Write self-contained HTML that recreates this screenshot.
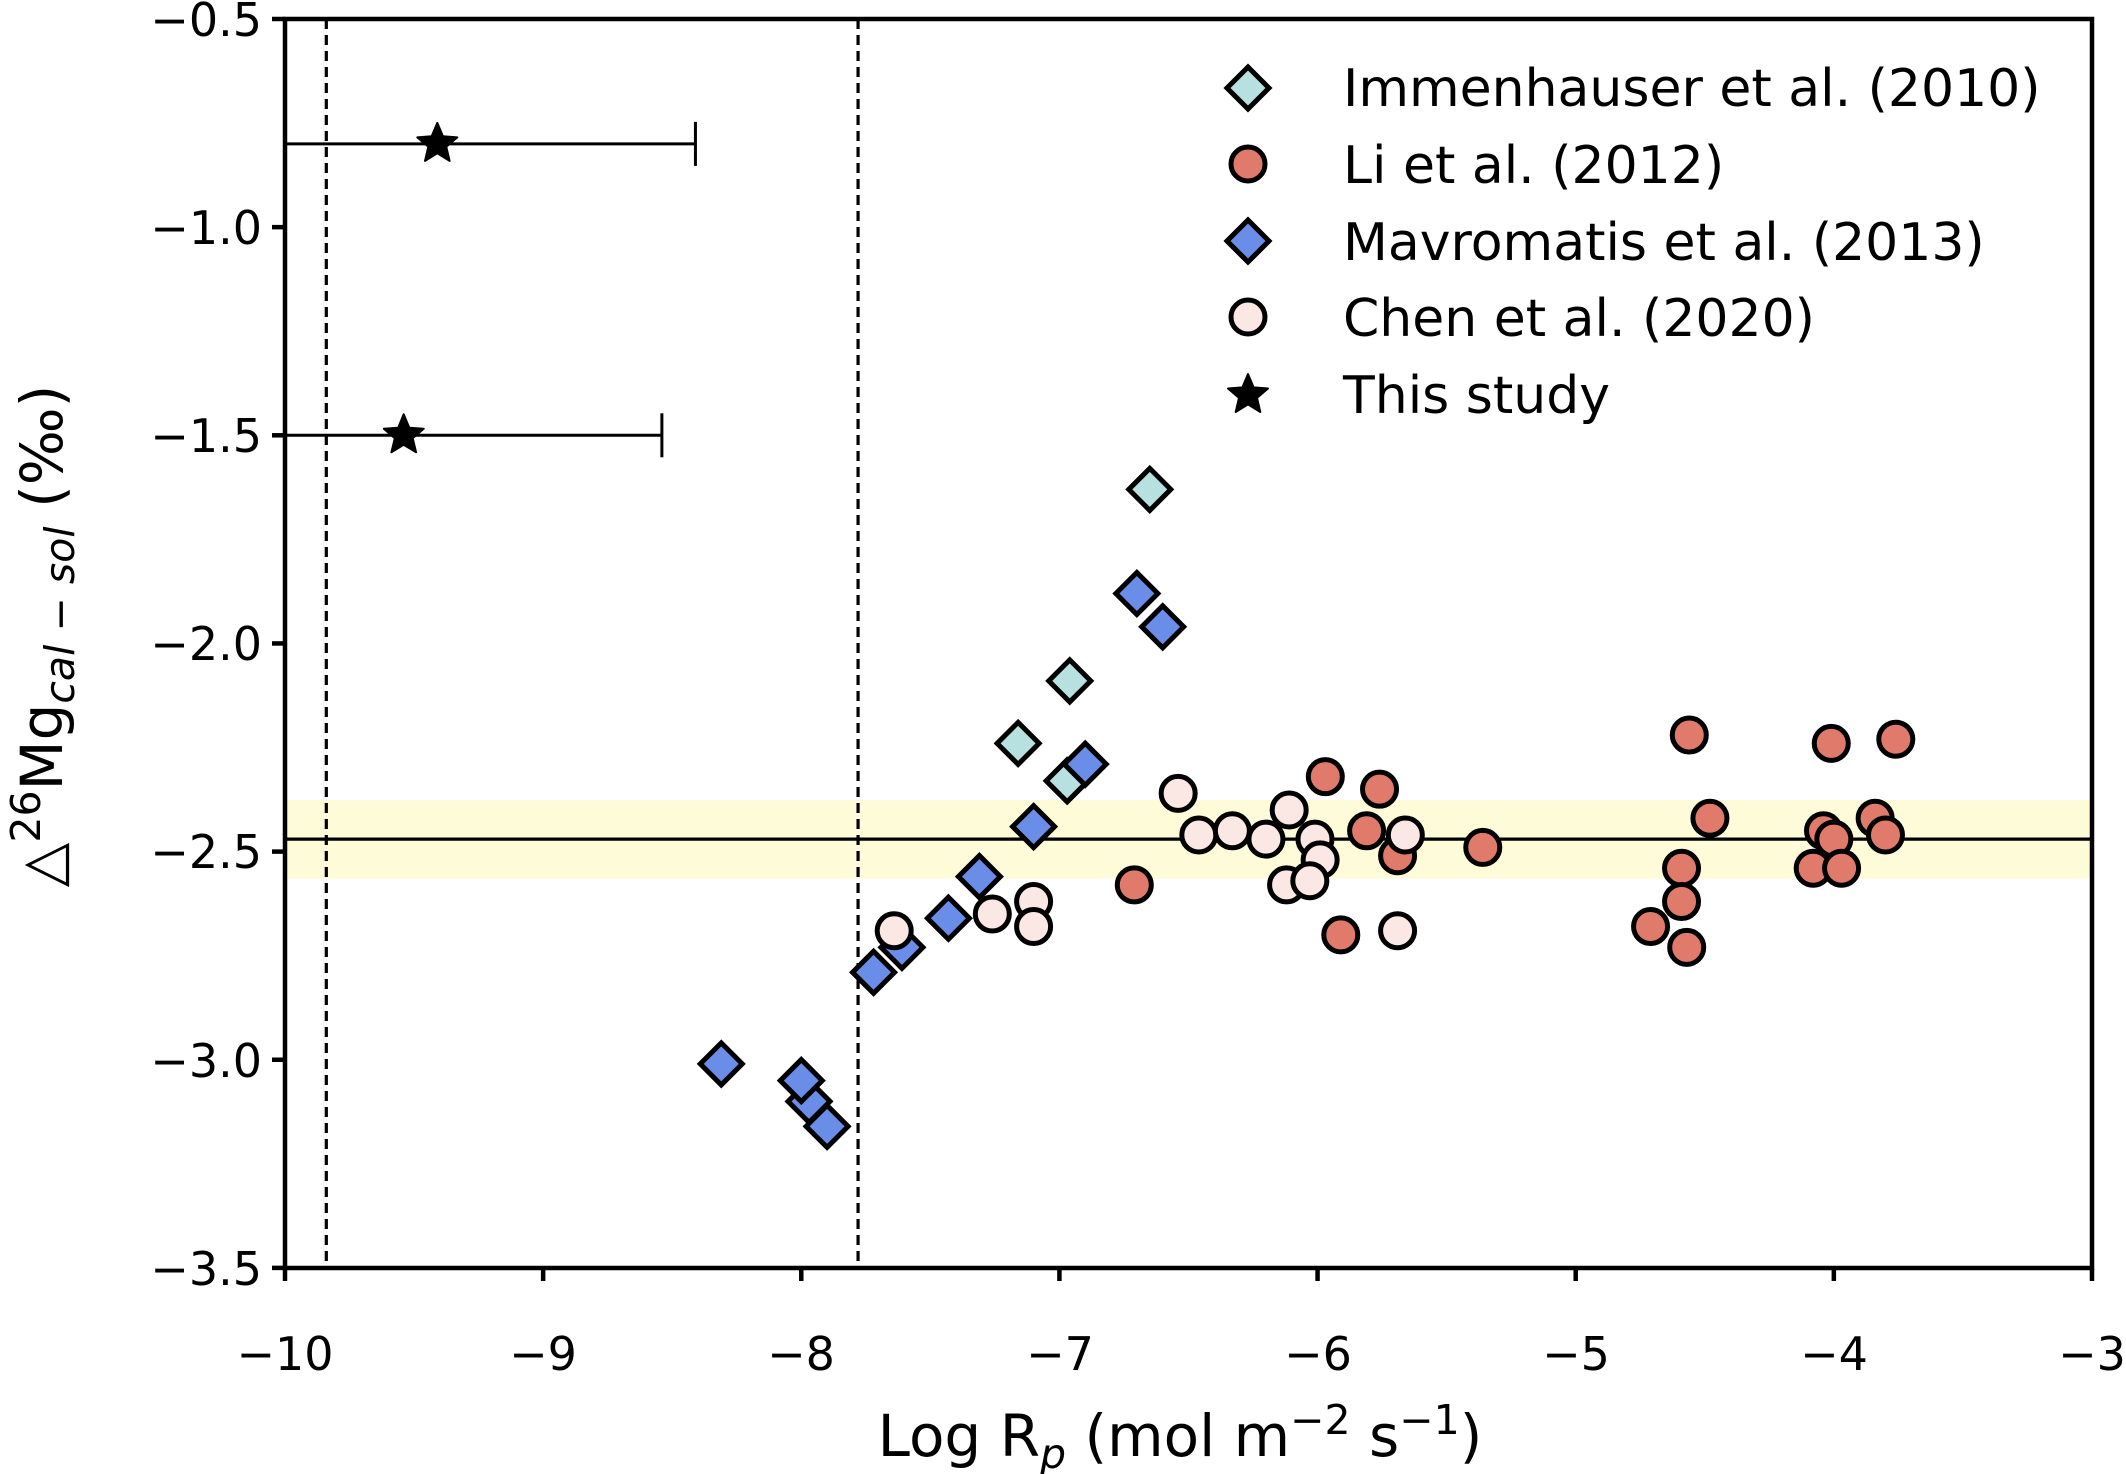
<!DOCTYPE html>
<html><head><meta charset="utf-8"><style>
html,body{margin:0;padding:0;background:#fff;}
svg{display:block;font-family:"DejaVu Sans","Liberation Sans",sans-serif;}
</style></head><body>
<svg id="s" width="2126" height="1474" viewBox="0 0 2126 1474" xmlns="http://www.w3.org/2000/svg">
<rect x="0" y="0" width="2126" height="1474" fill="#fff"/>
<g id="plot"></g>
<g font-size="46" fill="#000" text-anchor="end">
<text x="262" y="36">−0.5</text>
<text x="262" y="244">−1.0</text>
<text x="262" y="452">−1.5</text>
<text x="262" y="660">−2.0</text>
<text x="262" y="868">−2.5</text>
<text x="262" y="1077">−3.0</text>
<text x="262" y="1285">−3.5</text>
</g>
<g font-size="46" fill="#000" text-anchor="middle">
<text x="285" y="1370">−10</text>
<text x="543" y="1370">−9</text>
<text x="801" y="1370">−8</text>
<text x="1060" y="1370">−7</text>
<text x="1318" y="1370">−6</text>
<text x="1576" y="1370">−5</text>
<text x="1834" y="1370">−4</text>
<text x="2092" y="1370">−3</text>
</g>
<text x="1180" y="1456" font-size="58" text-anchor="middle">Log R<tspan font-size="41" font-style="italic" dy="12">p</tspan><tspan dy="-12"> (mol m</tspan><tspan font-size="41" dy="-22">−2</tspan><tspan dy="22"> s</tspan><tspan font-size="41" dy="-22">−1</tspan><tspan dy="22">)</tspan></text>
<text transform="translate(62,636) rotate(-90)" font-size="58" text-anchor="middle">△<tspan font-size="41" dy="-22">26</tspan><tspan dy="22">Mg</tspan><tspan font-size="41" font-style="italic" dy="12">cal − sol</tspan><tspan dy="-12"> (‰)</tspan></text>
<g font-size="52" fill="#000">
<text x="1343" y="106">Immenhauser et al. (2010)</text>
<text x="1343" y="183">Li et al. (2012)</text>
<text x="1343" y="260">Mavromatis et al. (2013)</text>
<text x="1343" y="336">Chen et al. (2020)</text>
<text x="1343" y="413">This study</text>
</g>
</svg>
<script>
const NS="http://www.w3.org/2000/svg";
const g=document.getElementById('plot');
const X=v=>285+(v+10)*258.14, Y=v=>19+(-0.5-v)*416.3;
function el(t,a){const e=document.createElementNS(NS,t);for(const k in a)e.setAttribute(k,a[k]);g.appendChild(e);return e;}
el('rect',{x:285,y:Y(-2.376),width:1807,height:Y(-2.565)-Y(-2.376),fill:'#fdfbd8'});
el('line',{x1:285,x2:2092,y1:Y(-2.47),y2:Y(-2.47),stroke:'#000','stroke-width':3.2});
[-9.84,-7.78].forEach(v=>el('line',{x1:X(v),x2:X(v),y1:19,y2:1268,stroke:'#000','stroke-width':3.2,'stroke-dasharray':'10,6'}));
const SW=5;
function diaP(px,py,f){const r=21;el('polygon',{points:`${px},${py-r} ${px+r},${py} ${px},${py+r} ${px-r},${py}`,fill:f,stroke:'#000','stroke-width':SW});}
function dia(x,y,f){diaP(X(x),Y(y),f);}
function cir(x,y,f){el('circle',{cx:X(x),cy:Y(y),r:17,fill:f,stroke:'#000','stroke-width':SW});}
function star(px,py,r){let p=[];for(let i=0;i<10;i++){const a=-Math.PI/2+i*Math.PI/5,rr=i%2?r*0.45:r;p.push((px+rr*Math.cos(a)).toFixed(1)+','+(py+rr*Math.sin(a)).toFixed(1));}el('polygon',{points:p.join(' '),fill:'#000',stroke:'#000','stroke-width':2,'stroke-linejoin':'round'});}
const imm=[[-6.65,-1.63],[-6.96,-2.09],[-7.16,-2.24],[-6.97,-2.33]];
const mav=[[-8.31,-3.01],[-7.97,-3.10],[-8.0,-3.05],[-7.9,-3.16],[-7.72,-2.79],[-7.61,-2.73],[-7.43,-2.66],[-7.31,-2.56],[-7.10,-2.44],[-6.90,-2.29],[-6.70,-1.88],[-6.60,-1.96]];
const li=[[-4.56,-2.22],[-4.01,-2.24],[-3.76,-2.23],[-4.48,-2.42],[-3.84,-2.42],[-4.04,-2.45],[-3.80,-2.46],[-4.0,-2.47],[-4.08,-2.54],[-3.97,-2.54],[-4.59,-2.54],[-4.59,-2.62],[-4.71,-2.68],[-4.57,-2.73],[-5.36,-2.49],[-5.97,-2.32],[-5.76,-2.35],[-5.81,-2.45],[-5.69,-2.51],[-5.91,-2.70],[-6.71,-2.58]];
const chen=[[-7.64,-2.69],[-7.26,-2.65],[-7.10,-2.62],[-7.10,-2.68],[-6.54,-2.36],[-6.46,-2.46],[-6.33,-2.45],[-6.20,-2.47],[-6.11,-2.40],[-6.01,-2.47],[-5.99,-2.52],[-6.12,-2.58],[-6.03,-2.57],[-5.66,-2.46],[-5.69,-2.69]];
imm.forEach(p=>dia(p[0],p[1],'#b7e0e0'));
mav.forEach(p=>dia(p[0],p[1],'#6a8ee8'));
li.forEach(p=>cir(p[0],p[1],'#e07b6c'));
chen.forEach(p=>cir(p[0],p[1],'#fbe7e3'));
[[-9.41,-0.8,-8.41],[-9.54,-1.5,-8.54]].forEach(s=>{
 el('line',{x1:285,x2:X(s[2]),y1:Y(s[1]),y2:Y(s[1]),stroke:'#000','stroke-width':3});
 el('line',{x1:X(s[2]),x2:X(s[2]),y1:Y(s[1])-22,y2:Y(s[1])+22,stroke:'#000','stroke-width':3});
 star(X(s[0]),Y(s[1]),21);
});
const lx=1248;
diaP(lx,88,'#b7e0e0');
el('circle',{cx:lx,cy:164,r:17,fill:'#e07b6c',stroke:'#000','stroke-width':SW});
diaP(lx,241,'#6a8ee8');
el('circle',{cx:lx,cy:317,r:17,fill:'#fbe7e3',stroke:'#000','stroke-width':SW});
star(lx,395,21);
el('rect',{x:285,y:19,width:1807,height:1249,fill:'none',stroke:'#000','stroke-width':4.5});
for(let i=0;i<7;i++){const y=19+i*208.15;el('line',{x1:272,x2:285,y1:y,y2:y,stroke:'#000','stroke-width':4.5});}
for(let i=0;i<8;i++){const x=285+i*258.14;el('line',{x1:x,x2:x,y1:1268,y2:1281,stroke:'#000','stroke-width':4.5});}
</script>
</body></html>
